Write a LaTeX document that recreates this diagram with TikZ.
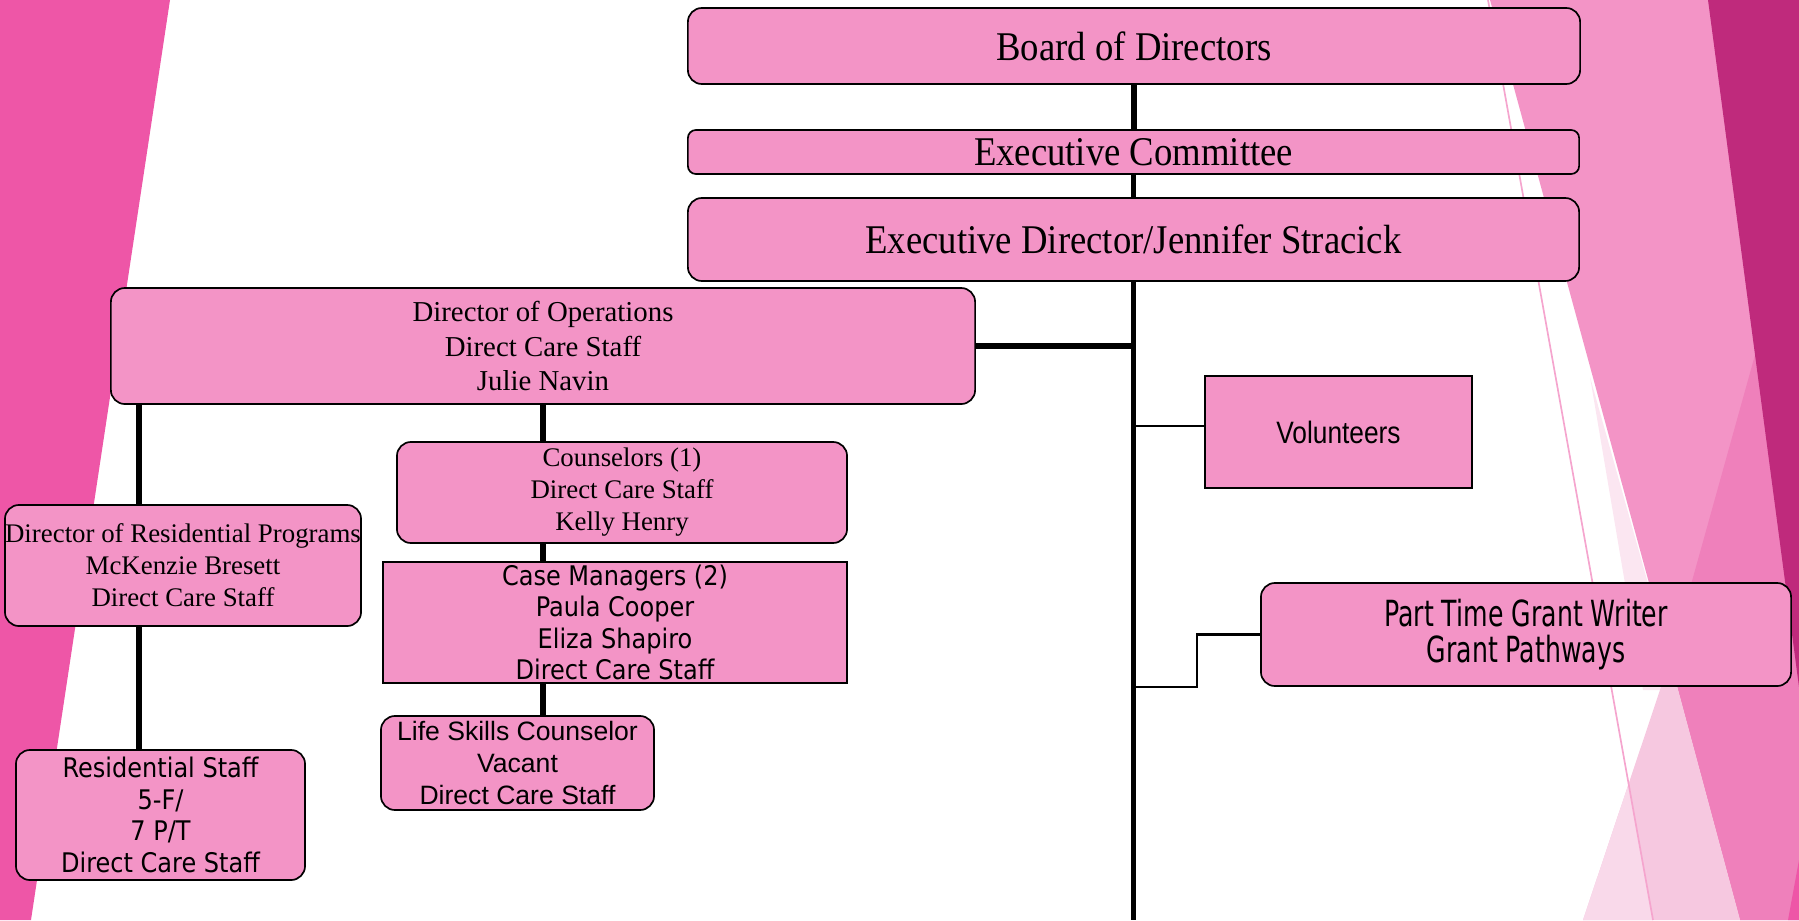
\documentclass[tikz,border=0pt]{standalone}
\usepackage{fontspec}
\setmainfont{Liberation Serif}
\newfontfamily\serifnarrow[FakeStretch=0.9]{Liberation Serif}
\newfontfamily\tahomalike[FakeStretch=0.89]{DejaVu Sans}
\newfontfamily\arialike{Liberation Sans}
\newfontfamily\arialnarrow[FakeStretch=0.85]{Liberation Sans}
\newfontfamily\grantfont[FakeStretch=0.7]{DejaVu Sans}

\definecolor{leftpink}{RGB}{238,86,167}
\definecolor{boxpink}{RGB}{243,148,198}
\definecolor{facetdark}{RGB}{191,42,124}
\definecolor{facetmid}{RGB}{239,128,187}
\definecolor{facetlight}{RGB}{246,200,224}
\definecolor{facetpale}{RGB}{249,217,234}
\definecolor{facetstrip}{RGB}{251,230,241}
\definecolor{facetline}{RGB}{245,165,206}

\newcommand\bigboxfont{\serifnarrow\fontsize{29}{34}\selectfont}

\begin{document}
\begin{tikzpicture}[x=0.025cm,y=-0.025cm,
  box/.style={draw=black,line width=1.2pt,fill=boxpink,rounded corners=0.35cm,inner sep=0pt,align=center},
  sqbox/.style={box,sharp corners},
  link/.style={line width=4pt},
  thinlink/.style={line width=1.7pt}]
\useasboundingbox (0,0) rectangle (1799,920);

% background
\fill[leftpink] (0,0) -- (170,0) -- (31,920) -- (0,920) -- cycle;
\fill[boxpink] (1490,0) -- (1799,0) -- (1799,920) -- (1740,920) -- (1670,660) -- cycle;
\fill[facetstrip] (1590,377) -- (1643,690) -- (1678,690) -- cycle;
\fill[facetmid] (1799,197) -- (1799,920) -- (1740,920) -- (1670,660) -- cycle;
\fill[facetlight] (1670,660) -- (1740,920) -- (1583,920) -- cycle;
\fill[facetpale] (1628.5,784) -- (1653,920) -- (1583,920) -- cycle;
\fill[facetdark] (1708,0) -- (1799,0) -- (1799,687) -- cycle;
\fill[leftpink] (1799,860) -- (1799,920) -- (1788,920) -- cycle;
\draw[facetline,line width=1.2pt] (1488,0) -- (1653,920);

% top of the chart
\node[box,font=\bigboxfont,minimum width=22.3cm,minimum height=1.9cm] (bod) at (1134,46) {Board of Directors};
\node[box,font=\bigboxfont,minimum width=22.275cm,minimum height=1.1cm,rounded corners=0.2cm] (ec) at (1133.5,152) {Executive Committee};
\node[box,font=\bigboxfont,minimum width=22.275cm,minimum height=2.075cm] (ed) at (1133.5,239.5) {Executive Director/Jennifer Stracick};

% operations side
\node[box,font=\fontsize{20.5}{24.2}\selectfont,minimum width=21.6cm,minimum height=2.9cm] (ops) at (543,346) {Director of Operations\\Direct Care Staff\\Julie Navin};
\node[box,font=\fontsize{19.1}{22.8}\selectfont,minimum width=8.9cm,minimum height=3.025cm] (dres) at (183,565.5) {Director of Residential Programs\\McKenzie Bresett\\Direct Care Staff};
\node[box,font=\tahomalike\fontsize{19.2}{22.4}\selectfont,minimum width=7.225cm,minimum height=3.25cm] (rstaff) at (160.5,815) {Residential Staff\\5-F/\\7 P/T\\Direct Care Staff};
\node[box,font=\fontsize{19.1}{22.8}\selectfont,minimum width=11.25cm,minimum height=2.525cm] (couns) at (622,492.5) {Counselors (1)\\Direct Care Staff\\Kelly Henry};
\node[sqbox,font=\tahomalike\fontsize{19.2}{22.4}\selectfont,minimum width=11.6cm,minimum height=3.025cm] (case) at (615,622.5) {Case Managers (2)\\Paula Cooper\\Eliza Shapiro\\Direct Care Staff};
\node[box,font=\arialike\fontsize{18.9}{22.8}\selectfont,minimum width=6.825cm,minimum height=2.35cm] (life) at (517.5,763) {Life Skills Counselor\\Vacant\\Direct Care Staff};

% right of the trunk
\node[sqbox,font=\arialnarrow\fontsize{22}{26}\selectfont,minimum width=6.675cm,minimum height=2.8cm] (vol) at (1338.5,432) {Volunteers};
\node[box,font=\grantfont\fontsize{25.6}{25.3}\selectfont,minimum width=13.25cm,minimum height=2.575cm] (grant) at (1526,634.5) {Part Time Grant Writer\\Grant Pathways};

\coordinate (foot) at (1134,920);

\draw[link] (bod.south) -- (bod.south |- ec.north);
\draw[link] (ec.south) -- (ec.south |- ed.north);
\draw[link] (ed.south) -- (ed.south |- foot);
\draw[link] (ops.east) -- (ops.east -| ed.south);
\draw[thinlink] ([yshift=0.15cm]vol.west -| ed.south) -- ([yshift=0.15cm]vol.west);
\draw[thinlink] (grant.south -| ed.south) -- ([xshift=-1.575cm]grant.south west) |- (grant.west);

\draw[link] ([xshift=0.725cm]ops.south west) -- ([xshift=0.725cm]ops.south west |- dres.north);
\draw[link] ([xshift=0.725cm]ops.south west |- dres.south) -- ([xshift=0.725cm]ops.south west |- rstaff.north);
\draw[link] (ops.south) -- (ops.south |- couns.north);
\draw[link] (ops.south |- couns.south) -- (ops.south |- case.north);
\draw[link] (ops.south |- case.south) -- (ops.south |- life.north);

\end{tikzpicture}
\end{document}
